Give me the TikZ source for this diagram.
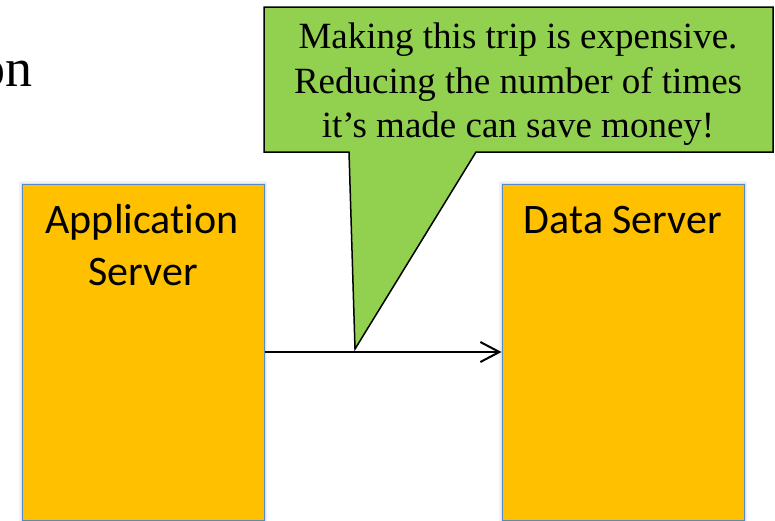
\documentclass[tikz,border=0pt]{standalone}
\usepackage{fontspec}
\setmainfont{Liberation Serif}
\newfontfamily\boxfont[Ligatures=NoCommon]{Carlito}
\usetikzlibrary{arrows.meta}
\definecolor{calloutgreen}{HTML}{92D050}
\definecolor{serverfill}{HTML}{FFC000}
\definecolor{serveredge}{HTML}{5A87C5}

\begin{document}
\begin{tikzpicture}[x=1pt,y=-1pt,
  server/.style={draw=serveredge, line width=1pt, fill=serverfill,
    minimum width=242pt, minimum height=336pt, inner sep=0pt,
    preaction={draw=black, opacity=0.05, line width=6pt},
    preaction={draw=black, opacity=0.07, line width=3pt}},
  boxlabel/.style={anchor=base, inner sep=0pt, font=\boxfont\fontsize{42}{50}\selectfont},
  notetext/.style={anchor=base, inner sep=0pt, font=\fontsize{37}{44}\selectfont},
  callout/.style={draw=black, line width=1.5pt, fill=calloutgreen, line join=miter},
  flow/.style={draw=black, line width=2pt, -{Straight Barb[length=19pt,width=20pt,line width=2pt]}}]

\useasboundingbox (0,0) rectangle (775,520);
\clip (0,0) rectangle (775,520);

% fragment of the slide title
\node[anchor=base east, inner sep=0pt, font=\fontsize{54}{60}\selectfont] (title) at (33,86) {on};

% the two servers
\node[server] (app) at (143,352) {};
\node[server] (data) at (623,352) {};
\node[boxlabel] (applbl1) at (142,233) {Application};
\node[boxlabel] (applbl2) at (143,285) {Server};
\node[boxlabel] (datalbl) at (623,233) {Data Server};

% the trip between them
\draw[flow] (app.east) -- (data.west);

% speech bubble pointing at the trip
\coordinate (tip) at (355,349);
\draw[callout] (264,7) -- (773,7) -- (773,152) -- (476,152) -- (tip)
  -- (349,152) -- (264,152) -- cycle;
\node[notetext] (note1) at (518,48) {Making this trip is expensive.};
\node[notetext] (note2) at (518,93) {Reducing the number of times};
\node[notetext] (note3) at (518,137) {it’s made can save money!};
\end{tikzpicture}
\end{document}
